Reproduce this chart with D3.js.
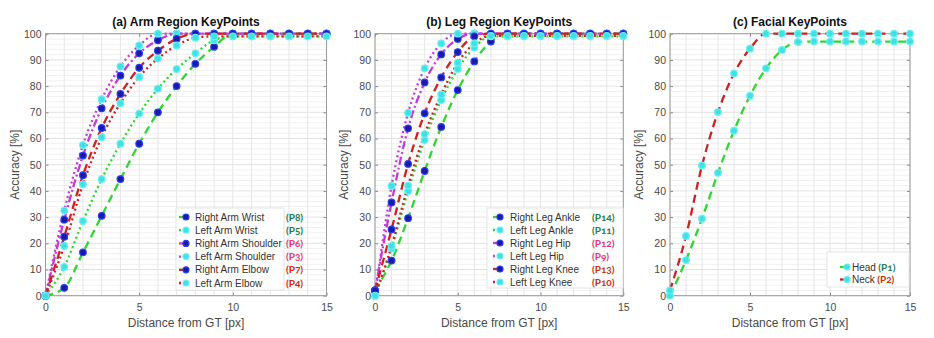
<!DOCTYPE html>
<html><head><meta charset="utf-8">
<script src="https://cdn.jsdelivr.net/npm/d3@7"></script>
<style>
body{margin:0;background:#fff;}
svg{display:block;font-family:"Liberation Sans",Arial,sans-serif;}
</style></head>
<body><svg id="c" width="934" height="338"></svg>
<script>
// ---------- data ----------
const distances = [0,1,2,3,4,5,6,7,8,9,10,11,12,13,14,15];
const xTickValues = [0,5,10,15];
const yTickValues = [0,10,20,30,40,50,60,70,80,90,100];
const titles = ["(a) Arm Region KeyPoints","(b) Leg Region KeyPoints","(c) Facial KeyPoints"];
const xLabel = "Distance from GT [px]";
const yLabel = "Accuracy [%]";

// panel (a)
const rightArmWrist    = [0,3,16.5,30.5,44.5,58,70,80,88.5,95,100,100,100,100,100,100];
const leftArmWrist     = [0,11,28.5,44.5,58,69.5,79,86.5,92.5,97.5,99,99,99,99,99,99];
const rightArmShoulder = [0,29,53.5,71.5,84,92.5,97.5,100,100,100,100,100,100,100,100,100];
const leftArmShoulder  = [0,32.5,57.5,75,87.5,95.5,100,100,100,100,100,100,100,100,100,100];
const rightArmElbow    = [0,22.5,46,64,77,87,93.5,98,100,100,100,100,100,100,100,100];
const leftArmElbow     = [0,19,42.5,60.5,73.5,83.5,90.5,95.5,98.5,99,99,99,99,99,99,99];
// panel (b)
const rightLegAnkle = [2,13.4,29.6,47.6,64.4,78.5,89.4,97,100,100,100,100,100,100,100,100];
const leftLegAnkle  = [0,18,40,59.4,74.7,86.5,94.7,99,99,99,99,99,99,99,99,99];
const rightLegHip   = [2,35.6,63.9,81.4,92.1,98,100,100,100,100,100,100,100,100,100,100];
const leftLegHip    = [0,41.9,69.8,86.8,96.3,100,100,100,100,100,100,100,100,100,100,100];
const rightLegKnee  = [2,25.3,50.3,69.6,83.3,93,99,100,100,100,100,100,100,100,100,100];
const leftLegKnee   = [0,19,42,61.7,76.8,88.9,96.3,99.2,99.2,99.2,99.2,99.2,99.2,99.2,99.2,99.2];
// panel (c)
const head = [0,13.6,29.4,46.9,63,76.3,86.8,93.8,96.8,97,97,97,97,97,97,97];
const neck = [2,22.8,49.7,70.1,84.8,94.3,100,100,100,100,100,100,100,100,100,100];

const armNames = ["Right Arm Wrist","Left Arm Wrist","Right Arm Shoulder","Left Arm Shoulder","Right Arm Elbow","Left Arm Elbow"];
const armCodes = ["(P8)","(P5)","(P6)","(P3)","(P7)","(P4)"];
const legNames = ["Right Leg Ankle","Left Leg Ankle","Right Leg Hip","Left Leg Hip","Right Leg Knee","Left Leg Knee"];
const legCodes = ["(P14)","(P11)","(P12)","(P9)","(P13)","(P10)"];
const faceNames = ["Head","Neck"];
const faceCodes = ["(P1)","(P2)"];

// ---------- styles ----------
const C = {green:"#2fd62f", magenta:"#c43ad9", red:"#cc2222"};
const codeColor = {green:"#1d7a4c", magenta:"#e8337c", red:"#c8300c"};
const dash = {dashed:"8,5", dotted:"2,3", dashdot:"8,3,2,3"};
const MK = {blue:{fill:"#1a1aa8",stroke:"#2a3cf0"}, cyan:{fill:"#3fe0e6",stroke:"#66f0f0"}};

const panels = [
  {x0:45.5, x1:326.5, series:[
    {v:rightArmWrist,color:"green",dash:"dashed",mk:"blue"},
    {v:leftArmWrist,color:"green",dash:"dotted",mk:"cyan"},
    {v:rightArmShoulder,color:"magenta",dash:"dashdot",mk:"blue"},
    {v:leftArmShoulder,color:"magenta",dash:"dotted",mk:"cyan"},
    {v:rightArmElbow,color:"red",dash:"dashed",mk:"blue"},
    {v:leftArmElbow,color:"red",dash:"dotted",mk:"cyan"}],
   names:armNames, codes:armCodes,
   legend:{l:176,t:208,r:284,b:290,mx:186,tx:195,cx:286,y0:217,dy:13.2}},
  {x0:375, x1:623.3, series:[
    {v:rightLegAnkle,color:"green",dash:"dashed",mk:"blue"},
    {v:leftLegAnkle,color:"green",dash:"dotted",mk:"cyan"},
    {v:rightLegHip,color:"magenta",dash:"dashdot",mk:"blue"},
    {v:leftLegHip,color:"magenta",dash:"dotted",mk:"cyan"},
    {v:rightLegKnee,color:"red",dash:"dashed",mk:"blue"},
    {v:leftLegKnee,color:"red",dash:"dotted",mk:"cyan"}],
   names:legNames, codes:legCodes,
   legend:{l:487,t:208,r:623,b:288,mx:500,tx:510,cx:592,y0:217,dy:13.0}},
  {x0:670, x1:910, series:[
    {v:head,color:"green",dash:"dashed",mk:"cyan"},
    {v:neck,color:"red",dash:"dashed",mk:"cyan"}],
   names:faceNames, codes:faceCodes,
   legend:{l:827,t:252,r:909,b:287,mx:847,tx:852,cx:null,y0:267,dy:12.5}}
];
const yTop = 33.7, yBot = 295.7;

const svg = d3.select("#c");

panels.forEach((p,pi)=>{
  const x = d3.scaleLinear().domain([0,15]).range([p.x0,p.x1]);
  const y = d3.scaleLinear().domain([0,100]).range([yBot,yTop]);
  const g = svg.append("g");

  // grid
  g.selectAll(".gy2").data(d3.range(0,101,2)).join("line")
    .attr("x1",p.x0).attr("x2",p.x1).attr("y1",d=>y(d)).attr("y2",d=>y(d))
    .attr("stroke",d=>d%10===0?"#e2e2e2":"#f0f0f0").attr("stroke-width",1);
  g.selectAll(".gx").data(d3.range(0,16,1)).join("line")
    .attr("y1",yTop).attr("y2",yBot).attr("x1",d=>x(d)).attr("x2",d=>x(d))
    .attr("stroke","#e6e6e6").attr("stroke-width",1);

  // axes (inward ticks)
  const ax = g.append("g").attr("transform",`translate(0,${yBot})`)
    .call(d3.axisBottom(x).tickValues(xTickValues).tickSizeInner(-3).tickSizeOuter(0).tickPadding(8));
  const ay = g.append("g").attr("transform",`translate(${p.x0},0)`)
    .call(d3.axisLeft(y).tickValues(yTickValues).tickSizeInner(-3).tickSizeOuter(0).tickPadding(4));
  g.append("g").attr("transform",`translate(${p.x1},0)`)
    .call(d3.axisRight(y).tickValues(yTickValues).tickSizeInner(-3).tickSizeOuter(0).tickFormat(""));
  g.append("g").attr("transform",`translate(0,${yTop})`)
    .call(d3.axisTop(x).tickValues(xTickValues).tickSizeInner(-3).tickSizeOuter(0).tickFormat(""));
  g.selectAll(".domain").remove();
  g.selectAll(".tick line").attr("stroke","#888");
  g.selectAll(".tick text").attr("fill","#4a4a4a").attr("font-size","10.5px")
    .attr("font-family","'Liberation Sans',Arial,sans-serif");

  g.append("rect").attr("x",p.x0).attr("y",yTop).attr("width",p.x1-p.x0).attr("height",yBot-yTop)
    .attr("fill","none").attr("stroke","#9a9a9a").attr("stroke-width",1);

  // series
  const line = d3.line().x((d,i)=>x(distances[i])).y(d=>y(d)).curve(d3.curveMonotoneX);
  p.series.forEach(s=>{
    g.append("path").datum(s.v).attr("d",line).attr("fill","none")
      .attr("stroke",C[s.color]).attr("stroke-width",2.3).attr("stroke-dasharray",dash[s.dash]);
  });
  p.series.forEach(s=>{
    g.selectAll(null).data(s.v).join("circle")
      .attr("cx",(d,i)=>x(distances[i])).attr("cy",d=>y(d)).attr("r",3.3)
      .attr("fill",MK[s.mk].fill).attr("stroke",MK[s.mk].stroke).attr("stroke-width",1.2);
  });

  // titles & labels
  svg.append("text").attr("x",(p.x0+p.x1)/2).attr("y",26).attr("text-anchor","middle")
    .attr("font-size","12px").attr("font-weight","bold").attr("fill","#111").text(titles[pi]);
  svg.append("text").attr("x",(p.x0+p.x1)/2).attr("y",327).attr("text-anchor","middle")
    .attr("font-size","12px").attr("fill","#4a4a4a").text(xLabel);
  svg.append("text").attr("transform",`translate(${p.x0-27},${(yTop+yBot)/2}) rotate(-90)`)
    .attr("text-anchor","middle").attr("font-size","12px").attr("fill","#4a4a4a").text(yLabel);

  // legend
  const L = p.legend;
  g.append("rect").attr("x",L.l).attr("y",L.t).attr("width",L.r-L.l).attr("height",L.b-L.t)
    .attr("fill","#fff").attr("stroke","#e4e4e4").attr("stroke-width",1);
  p.series.forEach((s,i)=>{
    const yy = L.y0 + i*L.dy;
    g.append("line").attr("x1",L.mx-7).attr("x2",L.mx+2).attr("y1",yy).attr("y2",yy)
      .attr("stroke",C[s.color]).attr("stroke-width",2.3).attr("stroke-dasharray",s.dash==="dotted"?"2,2":null);
    g.append("circle").attr("cx",L.mx).attr("cy",yy).attr("r",3)
      .attr("fill",MK[s.mk].fill).attr("stroke",MK[s.mk].stroke).attr("stroke-width",1.2);
    const t = g.append("text").attr("x",L.tx).attr("y",yy+3.6).attr("font-size","10px").attr("fill","#333");
    t.append("tspan").text(p.names[i]);
    if(L.cx===null){
      t.append("tspan").attr("font-family","Lato,'Noto Sans',sans-serif").attr("font-weight","bold")
        .attr("fill",codeColor[s.color]).style("font-variant-numeric","oldstyle-nums").text(" "+p.codes[i]);
    } else {
      g.append("text").attr("x",L.cx).attr("y",yy+3.6).attr("font-size","10px")
        .attr("font-family","Lato,'Noto Sans',sans-serif").attr("font-weight","bold")
        .style("font-variant-numeric","oldstyle-nums")
        .attr("fill",codeColor[s.color]).text(p.codes[i]);
    }
  });
});
</script></body></html>
